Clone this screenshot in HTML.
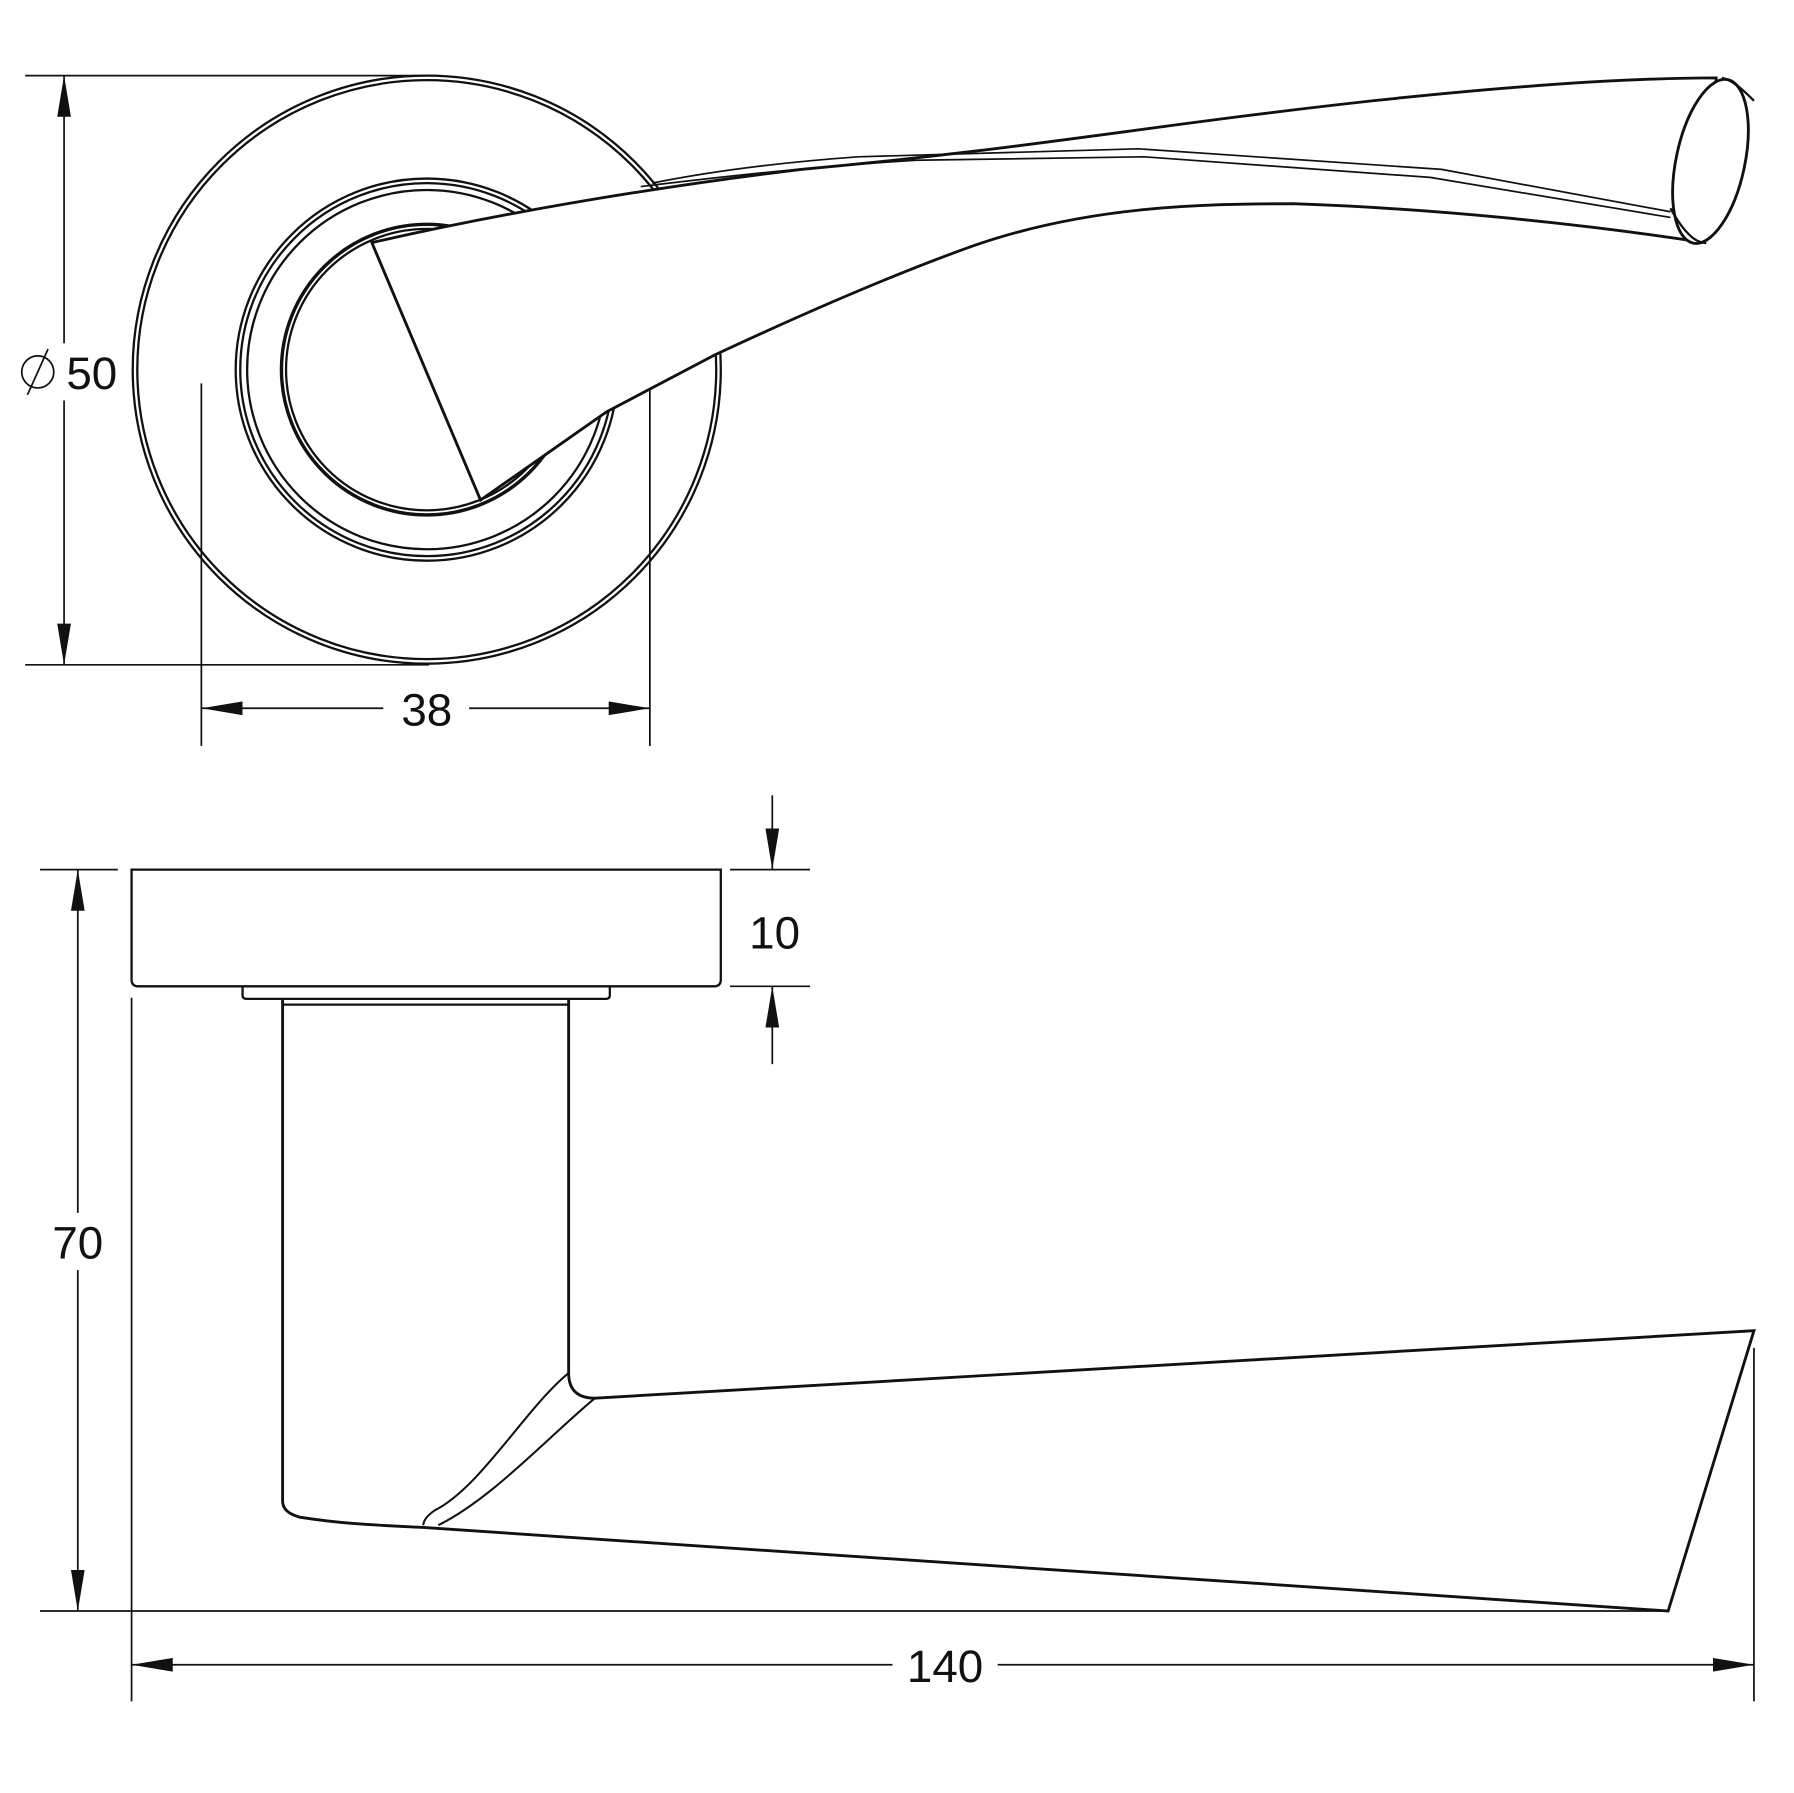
<!DOCTYPE html>
<html><head><style>html,body{margin:0;padding:0;background:#fff}svg{display:block}</style></head><body>
<svg width="1794" height="1793" viewBox="0 0 1568 1567" xmlns="http://www.w3.org/2000/svg" font-family="Liberation Sans, sans-serif" font-size="40" fill="none" stroke="#111" stroke-width="2">
<defs><marker id="a" viewBox="0 0 36 12" refX="36" refY="6" markerWidth="36" markerHeight="12" markerUnits="userSpaceOnUse" orient="auto"><path d="M0 0L36 6L0 12z" fill="#111" stroke="none"/></marker></defs>
<!-- top view dims -->
<path d="M22 66H375M22 581H375M176 335V652M568 335V652" stroke-width="1.5"/>
<path d="M56 300V66" stroke-width="1.5" marker-end="url(#a)"/>
<path d="M56 350V581" stroke-width="1.5" marker-end="url(#a)"/>
<path d="M335 619H176" stroke-width="1.5" marker-end="url(#a)"/>
<path d="M410 619H568" stroke-width="1.5" marker-end="url(#a)"/>
<g fill="#111" stroke="none" font-weight="300"><text x="58" y="340">50</text><text x="373" y="634" text-anchor="middle">38</text></g>
<circle cx="33" cy="325" r="14" stroke-width="1.5"/><path d="M24 345L42 305" stroke-width="1.5"/>
<!-- rose -->
<circle cx="373" cy="323" r="257"/><circle cx="373" cy="323" r="253"/>
<circle cx="373" cy="323" r="167"/><circle cx="373" cy="323" r="163"/><circle cx="373" cy="323" r="157"/>
<circle cx="373" cy="323" r="127" stroke-width="3"/><circle cx="373" cy="323" r="123"/>
<!-- lever top -->
<path d="M325 212L420 437L530 360L625 310C700 275 780 240 850 215C950 180 1050 178 1130 178C1250 182 1380 195 1490 212L1500 68C1440 68 1350 72 1200 88C1000 110 900 130 700 148C560 165 430 188 325 212Z" fill="#fff" stroke-width="2.5"/>
<path d="M570 160C620 150 680 142 750 137L995 130L1260 148L1460 185M560 163C650 152 720 145 800 140L1000 137L1250 155L1460 190" stroke-width="1.5"/>
<ellipse cx="1495" cy="141" rx="30" ry="73" transform="rotate(12 1495 141)" fill="#fff" stroke-width="2.5"/>
<path d="M1460 182C1470 200 1480 212 1490 212M1505 68C1515 70 1525 80 1533 88" stroke-width="2"/>
<!-- bottom view dims -->
<path d="M35 760H103M638 760H708M638 862H708M35 1408H1458M115 872V1487M1533 1178V1487" stroke-width="1.5"/>
<path d="M675 695V760" stroke-width="1.5" marker-end="url(#a)"/>
<path d="M675 930V862" stroke-width="1.5" marker-end="url(#a)"/>
<path d="M68 1060V760" stroke-width="1.5" marker-end="url(#a)"/>
<path d="M68 1110V1408" stroke-width="1.5" marker-end="url(#a)"/>
<path d="M780 1455H115" stroke-width="1.5" marker-end="url(#a)"/>
<path d="M872 1455H1533" stroke-width="1.5" marker-end="url(#a)"/>
<g fill="#111" stroke="none" font-weight="300"><text x="677" y="829" text-anchor="middle">10</text><text x="68" y="1100" text-anchor="middle">70</text><text x="826" y="1470" text-anchor="middle">140</text></g>
<!-- bottom body -->
<path d="M115 760H630V856Q630 862 624 862H121Q115 862 115 856Z"/>
<path d="M212 862V870Q212 873 216 873H529Q533 873 533 870V862M247 878H497" />
<path d="M247 873V1312Q247 1322 262 1326C300 1332 330 1333 370 1335L1458 1408L1533 1163L520 1222Q497 1222 497 1200V873" stroke-width="2.5"/>
<path d="M497 1200C460 1230 420 1300 380 1320Q370 1327 370 1333M520 1222C480 1255 430 1310 383 1333" stroke-width="1.8"/>
</svg>
</body></html>
